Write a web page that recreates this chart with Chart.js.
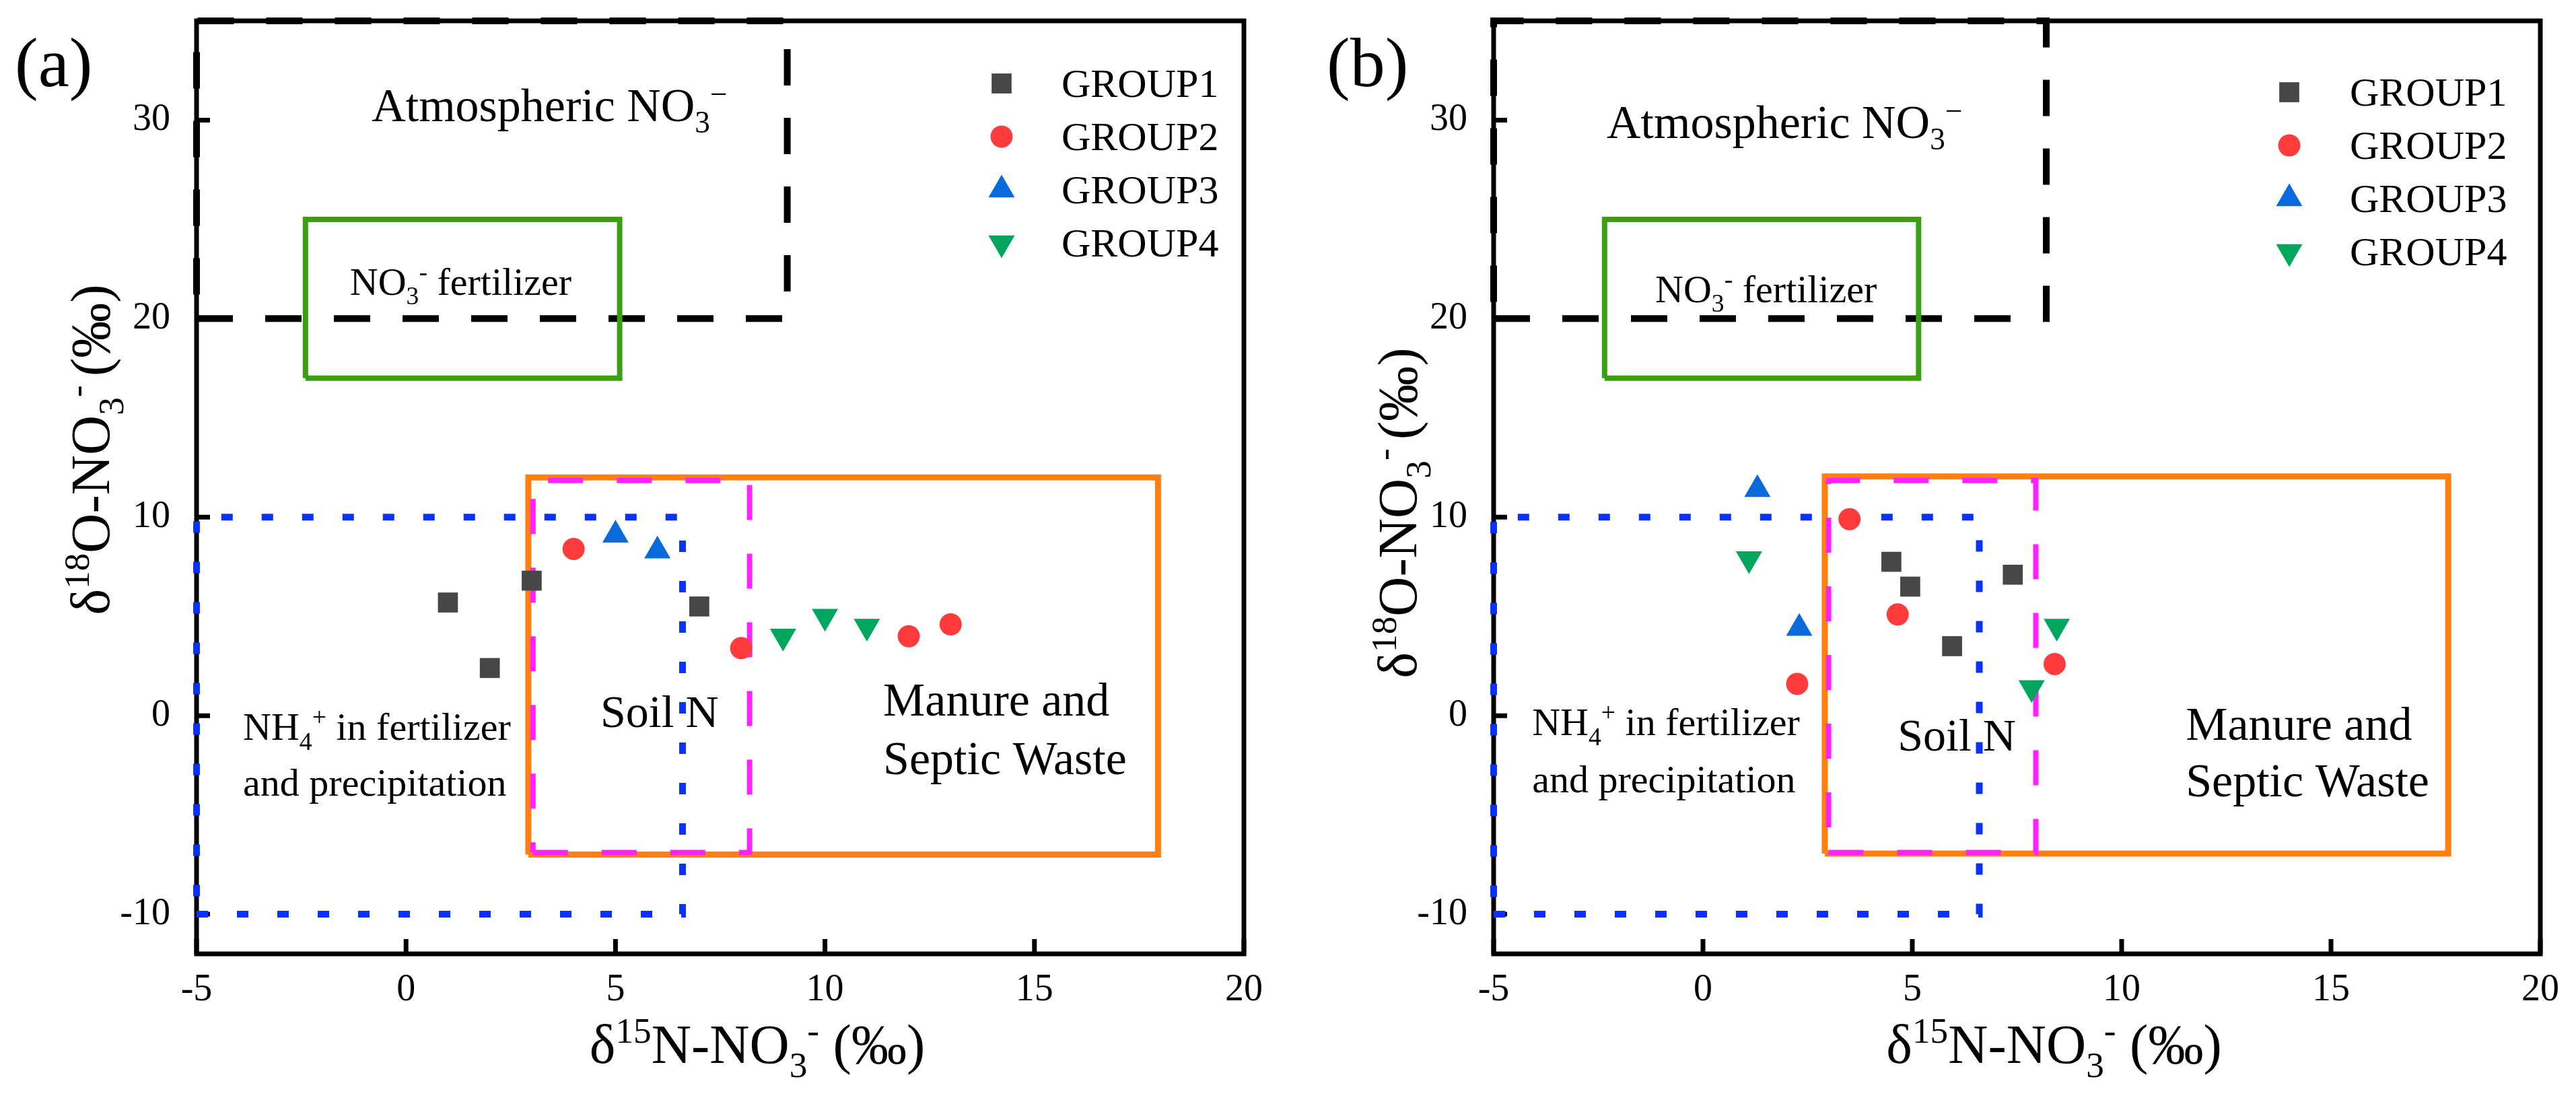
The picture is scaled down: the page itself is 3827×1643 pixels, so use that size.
<!DOCTYPE html>
<html>
<head>
<meta charset="utf-8">
<title>δ15N–δ18O of nitrate</title>
<script src="https://cdn.jsdelivr.net/npm/chart.js@4.4.1/dist/chart.umd.min.js"></script>
<style>
  html, body { margin: 0; padding: 0; background: #fff; }
  .panel { position: absolute; top: 0; height: 1643px; }
  #panelA { left: 0; width: 1914px; }
  #panelB { left: 1914px; width: 1913px; }
</style>
</head>
<body>
<div class="panel" id="panelA"><canvas id="chartA"></canvas></div>
<div class="panel" id="panelB"><canvas id="chartB"></canvas></div>
<script>
const xTickValues = [-5, 0, 5, 10, 15, 20];
const yTickValues = [-10, 0, 10, 20, 30];
const groupNames = ['GROUP1', 'GROUP2', 'GROUP3', 'GROUP4'];

// panel (a): δ15N (x) and δ18O (y), per group
const a1x = [1.0, 2.0, 3.0, 7.0];
const a1y = [5.7, 2.4, 6.8, 5.5];
const a2x = [4.0, 8.0, 12.0, 13.0];
const a2y = [8.4, 3.4, 4.0, 4.6];
const a3x = [5.0, 6.0];
const a3y = [9.1, 8.3];
const a4x = [9.0, 10.0, 11.0];
const a4y = [4.0, 5.0, 4.5];

// panel (b)
const b1x = [4.5, 4.95, 5.95, 7.4];
const b1y = [7.75, 6.5, 3.5, 7.1];
const b2x = [3.5, 4.65, 2.25, 8.4];
const b2y = [9.9, 5.1, 1.6, 2.6];
const b3x = [1.3, 2.3];
const b3y = [11.4, 4.4];
const b4x = [1.1, 8.45, 7.85];
const b4y = [7.9, 4.5, 1.4];

// source ranges: [xMin, xMax, yMin, yMax]
const atmosA = [-5, 9.1, 20, 35];
const fertA = [-2.4, 5.1, 17, 25];
const ammonA = [-5, 6.6, -10, 10];
const soilA = [3.03, 8.2, -6.9, 11.85];
const manureA = [2.92, 17.95, -7, 12];
const atmosB = [-5, 8.2, 20, 35];
const fertB = [-2.35, 5.15, 17, 25];
const ammonB = [-5, 6.6, -10, 10];
const soilB = [3.0, 7.95, -6.9, 11.85];
const manureB = [2.91, 17.8, -6.95, 12.05];

const FONT = 'Liberation Serif';
Chart.defaults.font.family = FONT;
Chart.defaults.color = '#000';

const markerStyles = [
  { pointStyle: 'rect', radius: 21, rotation: 0, color: '#474747' },
  { pointStyle: 'circle', radius: 16.5, rotation: 0, color: '#FF3B3B' },
  { pointStyle: 'triangle', radius: 22.5, rotation: 0, color: '#0A6ADB' },
  { pointStyle: 'triangle', radius: 22.5, rotation: 180, color: '#00A65E' }
];

const boxStyles = {
  atmos: { color: '#000000', width: 10, dash: [54, 48] },
  fert: { color: '#3A9F12', width: 8, dash: [] },
  ammon: { color: '#0A32FF', width: 10, dash: [17, 43] },
  soil: { color: '#FF22FF', width: 8, dash: [52, 50] },
  manure: { color: '#FF8010', width: 9, dash: [] }
};

const xTitle = [['δ'], ['15', 'sup'], ['N-NO'], ['3', 'sub'], ['-', 'sup'], [' (‰)']];
const yTitle = [['δ'], ['18', 'sup'], ['O-NO'], ['3', 'sub'], ['- ', 'sup'], ['(‰)']];

function drawRich(ctx, runs, x, y, size, align) {
  const items = runs.map(([t, k]) => {
    const s = k ? size * 0.65 : size;
    ctx.font = s + 'px "' + FONT + '"';
    return { t, k, s, w: ctx.measureText(t).width };
  });
  const total = items.reduce((sum, it) => sum + it.w, 0);
  let cx = align === 'center' ? x - total / 2 : x;
  ctx.textAlign = 'left';
  ctx.textBaseline = 'alphabetic';
  items.forEach(it => {
    ctx.font = it.s + 'px "' + FONT + '"';
    const dy = it.k === 'sup' ? -0.36 * size : it.k === 'sub' ? 0.25 * size : 0;
    ctx.fillText(it.t, cx, y + dy);
    cx += it.w;
  });
}

function drawMarker(ctx, st, x, y) {
  if (Chart.helpers && Chart.helpers.drawPoint) {
    Chart.helpers.drawPoint(ctx, { pointStyle: st.pointStyle, radius: st.radius, rotation: st.rotation, borderWidth: 0 }, x, y);
    return;
  }
  ctx.beginPath();
  if (st.pointStyle === 'circle') {
    ctx.arc(x, y, st.radius, 0, Math.PI * 2);
  } else if (st.pointStyle === 'rect') {
    const h = st.radius * Math.SQRT1_2;
    ctx.rect(x - h, y - h, 2 * h, 2 * h);
  } else {
    const d = st.rotation ? -1 : 1, r = st.radius;
    ctx.moveTo(x, y - d * r);
    ctx.lineTo(x + r * 0.866, y + d * r / 2);
    ctx.lineTo(x - r * 0.866, y + d * r / 2);
    ctx.closePath();
  }
  ctx.fill();
}

function boxDataset(r, st) {
  return {
    data: [
      { x: r[0], y: r[2] }, { x: r[1], y: r[2] }, { x: r[1], y: r[3] },
      { x: r[0], y: r[3] }, { x: r[0], y: r[2] }
    ],
    showLine: true,
    borderColor: st.color,
    borderWidth: st.width,
    borderDash: st.dash,
    borderCapStyle: 'butt',
    pointRadius: 0,
    fill: false,
    clip: false
  };
}

const framePlugin = {
  id: 'frame',
  beforeDatasetsDraw(chart) {
    const { ctx, chartArea: a, scales: { x, y } } = chart;
    ctx.save();
    ctx.strokeStyle = '#000';
    ctx.lineWidth = 7;
    ctx.strokeRect(a.left, a.top, a.right - a.left, a.bottom - a.top);
    ctx.beginPath();
    x.ticks.forEach(t => {
      const px = x.getPixelForValue(t.value);
      ctx.moveTo(px, a.bottom);
      ctx.lineTo(px, a.bottom - 22);
    });
    y.ticks.forEach(t => {
      const py = y.getPixelForValue(t.value);
      ctx.moveTo(a.left, py);
      ctx.lineTo(a.left + 20, py);
    });
    ctx.stroke();
    ctx.restore();
  }
};

function notesPlugin(p) {
  return {
    id: 'notes',
    afterDatasetsDraw(chart) {
      const { ctx, chartArea: area, scales: { x, y } } = chart;
      ctx.save();
      ctx.fillStyle = '#000';
      p.notes.forEach(n => drawRich(ctx, n.runs, x.getPixelForValue(n.x), y.getPixelForValue(n.y), n.size, 'left'));
      drawRich(ctx, [[p.tag]], p.tagAt[0], p.tagAt[1], 104, 'left');
      drawRich(ctx, xTitle, (area.left + area.right) / 2 + 55, area.bottom + 162, 82, 'center');

      groupNames.forEach((name, i) => {
        const st = markerStyles[i];
        const cy = p.legendTop + i * 79;
        ctx.fillStyle = st.color;
        drawMarker(ctx, st, p.legendMarkerX, cy);
        ctx.fillStyle = '#000';
        ctx.font = '60px "' + FONT + '"';
        ctx.textAlign = 'left';
        ctx.textBaseline = 'alphabetic';
        ctx.fillText(name, p.legendTextX, cy + 20);
      });

      ctx.translate(p.yTitleAt[0], p.yTitleAt[1]);
      ctx.rotate(-Math.PI / 2);
      drawRich(ctx, yTitle, 0, 0, 82, 'center');
      ctx.restore();
    }
  };
}

function buildChart(canvasId, p) {
  const datasets = p.groups.map((g, i) => {
    const st = markerStyles[i];
    return {
      label: groupNames[i],
      data: g[0].map((v, k) => ({ x: v, y: g[1][k] })),
      pointStyle: st.pointStyle,
      pointRadius: st.radius,
      pointRotation: st.rotation,
      pointBackgroundColor: st.color,
      pointBorderWidth: 0,
      clip: false
    };
  });
  // later datasets are painted first, so the list runs top layer -> bottom layer
  datasets.push(boxDataset(p.soil, boxStyles.soil));
  datasets.push(boxDataset(p.ammon, boxStyles.ammon));
  datasets.push(boxDataset(p.manure, boxStyles.manure));
  datasets.push(boxDataset(p.fert, boxStyles.fert));
  datasets.push(boxDataset(p.atmos, boxStyles.atmos));

  return new Chart(document.getElementById(canvasId), {
    type: 'scatter',
    data: { datasets },
    options: {
      responsive: true,
      maintainAspectRatio: false,
      devicePixelRatio: 1,
      animation: false,
      events: [],
      layout: { padding: { left: 0, top: 31, right: p.rightPad, bottom: 0 } },
      plugins: { legend: { display: false }, tooltip: { enabled: false } },
      scales: {
        x: {
          type: 'linear', min: -5, max: 20,
          afterBuildTicks: s => { s.ticks = xTickValues.map(v => ({ value: v })); },
          afterFit: s => { s.height = 226; s.paddingLeft = 0; s.paddingRight = 0; },
          grid: { display: false },
          border: { display: false },
          ticks: { padding: 13, maxRotation: 0, autoSkip: false, color: '#000', font: { family: FONT, size: 56 } }
        },
        y: {
          type: 'linear', min: -12, max: 35,
          afterBuildTicks: s => { s.ticks = yTickValues.map(v => ({ value: v })); },
          afterFit: s => { s.width = p.leftWidth; s.paddingTop = 0; s.paddingBottom = 0; },
          grid: { display: false },
          border: { display: false },
          ticks: { padding: 31, autoSkip: false, color: '#000', font: { family: FONT, size: 56 } }
        }
      }
    },
    plugins: [framePlugin, notesPlugin(p)]
  });
}

buildChart('chartA', {
  groups: [[a1x, a1y], [a2x, a2y], [a3x, a3y], [a4x, a4y]],
  atmos: atmosA, fert: fertA, ammon: ammonA, soil: soilA, manure: manureA,
  leftWidth: 292, rightPad: 66,
  tag: '(a)', tagAt: [22, 128],
  yTitleAt: [162, 668],
  legendTop: 124, legendMarkerX: 1488, legendTextX: 1577,
  notes: [
    { x: -0.82, y: 29.95, size: 70, runs: [['Atmospheric NO'], ['3', 'sub'], ['−', 'sup']] },
    { x: -1.34, y: 21.2, size: 58, runs: [['NO'], ['3', 'sub'], ['-', 'sup'], [' fertilizer']] },
    { x: -3.89, y: -1.22, size: 58, runs: [['NH'], ['4', 'sub'], ['+', 'sup'], [' in fertilizer']] },
    { x: -3.89, y: -4.03, size: 58, runs: [['and precipitation']] },
    { x: 4.64, y: -0.57, size: 68, runs: [['Soil N']] },
    { x: 11.39, y: 0.0, size: 70, runs: [['Manure and']] },
    { x: 11.39, y: -2.95, size: 70, runs: [['Septic Waste']] }
  ]
});

buildChart('chartB', {
  groups: [[b1x, b1y], [b2x, b2y], [b3x, b3y], [b4x, b4y]],
  atmos: atmosB, fert: fertB, ammon: ammonB, soil: soilB, manure: manureB,
  leftWidth: 305, rightPad: 53,
  tag: '(b)', tagAt: [57, 128],
  yTitleAt: [190, 762],
  legendTop: 137, legendMarkerX: 1487, legendTextX: 1577,
  notes: [
    { x: -2.3, y: 29.1, size: 70, runs: [['Atmospheric NO'], ['3', 'sub'], ['−', 'sup']] },
    { x: -1.14, y: 20.83, size: 58, runs: [['NO'], ['3', 'sub'], ['-', 'sup'], [' fertilizer']] },
    { x: -4.08, y: -0.98, size: 58, runs: [['NH'], ['4', 'sub'], ['+', 'sup'], [' in fertilizer']] },
    { x: -4.08, y: -3.86, size: 58, runs: [['and precipitation']] },
    { x: 4.65, y: -1.76, size: 68, runs: [['Soil N']] },
    { x: 11.53, y: -1.22, size: 70, runs: [['Manure and']] },
    { x: 11.53, y: -4.07, size: 70, runs: [['Septic Waste']] }
  ]
});
</script>
</body>
</html>
